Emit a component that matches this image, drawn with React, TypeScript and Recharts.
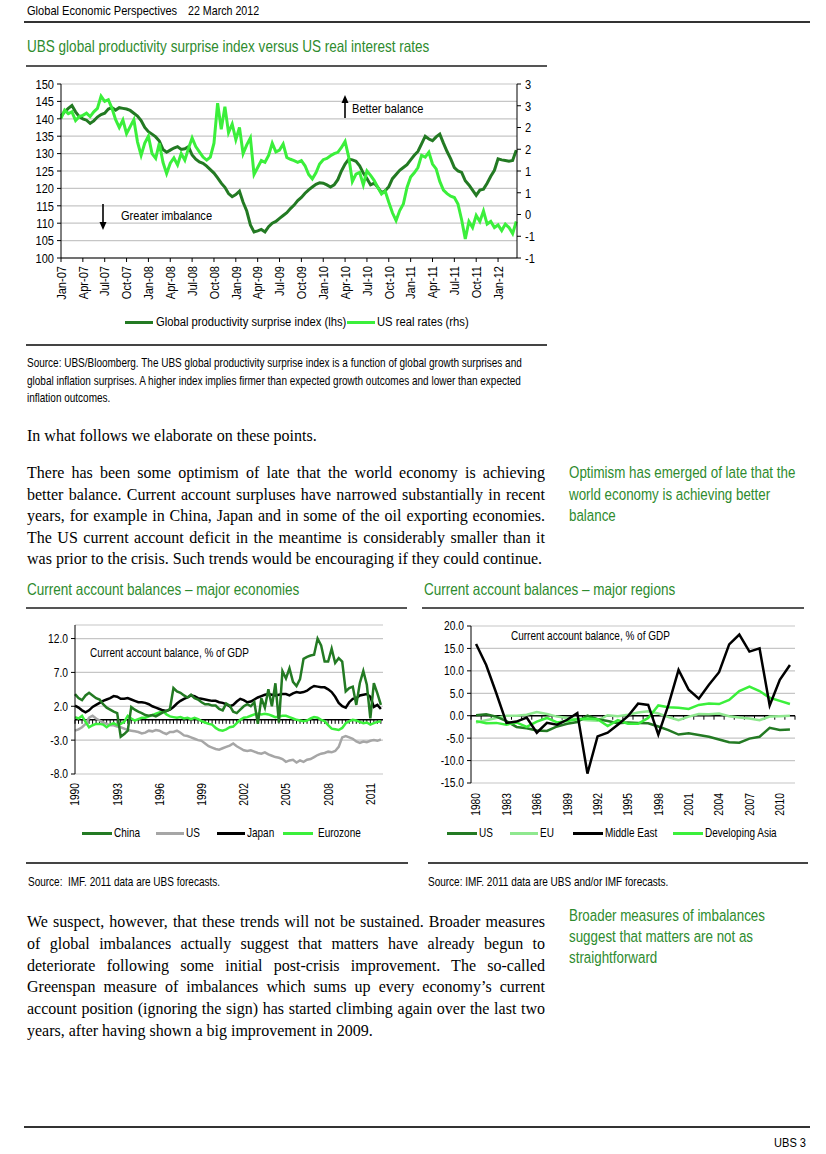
import React from 'react';
import { LineChart, Line, XAxis, YAxis, CartesianGrid, ReferenceLine } from 'recharts';

const SANS = '"Liberation Sans", Arial, sans-serif';
const SERIF = '"Liberation Serif", "Times New Roman", serif';
const K = 0.82; // horizontal squeeze to imitate Arial Narrow
const GREEN_TEXT = '#2e8b2e';
const DARK = '#237a23';
const BRIGHT = '#3bef3b';
const PALE = '#8fe88f';
const GRAY = '#a6a6a6';
const GRID = '#c6c6c6';

// ---------- Chart 1: UBS global productivity surprise index vs US real rates (half-month steps from Jan-07)
const monthTickLabels = ['Jan-07', 'Apr-07', 'Jul-07', 'Oct-07', 'Jan-08', 'Apr-08', 'Jul-08', 'Oct-08', 'Jan-09', 'Apr-09', 'Jul-09', 'Oct-09', 'Jan-10', 'Apr-10', 'Jul-10', 'Oct-10', 'Jan-11', 'Apr-11', 'Jul-11', 'Oct-11', 'Jan-12'];
const productivityIndex = [
  140.8, 142, 143, 143.8, 142, 140.6, 140, 139.6, 138.7, 139.4,
  140.5, 141.2, 141.6, 142.8, 143.2, 142.5, 143.2, 143, 142.8, 142.4,
  141.6, 140.8, 139.5, 137.5, 136.3, 135.6, 134.8, 133.6, 131.2, 130.4,
  131, 131.6, 132, 131.2, 131.4, 132, 129.6, 128.4, 127.6, 127.2,
  126.4, 125.4, 124.4, 123, 121.5, 120.3, 118.5, 117.6, 118.2, 119.2,
  116, 113.5, 109.5, 107.5, 107.8, 108.2, 107.5, 109, 110, 110.5,
  111.4, 112.2, 113, 114.2, 115.2, 116.5, 117.4, 118.6, 119.6, 120.4,
  121.2, 121.6, 121.5, 121, 120.4, 121, 122.5, 125, 127, 128.4,
  128.2, 127.8, 126.5, 124.4, 122.8, 121, 121.5, 120.3, 118.8, 119.3,
  120.5, 122.8, 124, 125.2, 126, 126.8, 128.2, 129.5, 130.6, 132.8,
  135, 134.2, 133.7, 134.8, 135.6, 133, 130.6, 128.5, 126, 125,
  124.6, 122.2, 121, 119.5, 118, 119.5, 119.8, 121.5, 123.5, 125.2,
  128.5, 128.2, 128, 127.8, 128, 131,
];
const usRealRates = [
  2.21, 2.40, 2.32, 2.36, 2.16, 2.25, 2.28, 2.33, 2.25, 2.36,
  2.44, 2.72, 2.60, 2.64, 2.44, 2.18, 2.00, 2.17, 1.86, 2.02,
  2.18, 1.67, 1.36, 1.64, 1.80, 1.40, 1.29, 1.64, 1.20, 0.94,
  1.18, 1.30, 1.14, 1.40, 1.25, 1.52, 1.76, 1.56, 1.44, 1.32,
  1.25, 1.32, 1.64, 2.56, 1.96, 2.48, 1.88, 2.08, 1.72, 2.00,
  1.40, 1.60, 1.76, 0.92, 1.08, 1.24, 1.20, 1.36, 1.64, 1.44,
  1.48, 1.62, 1.31, 1.27, 1.24, 1.20, 1.24, 1.12, 0.92, 0.82,
  0.96, 1.16, 1.26, 1.29, 1.35, 1.40, 1.43, 1.54, 1.68, 1.32,
  0.76, 0.93, 0.97, 0.68, 1.00, 0.90, 0.78, 0.62, 0.47, 0.54,
  0.28, 0.04, -0.14, 0.09, 0.24, 0.62, 0.86, 0.96, 1.08, 1.36,
  1.32, 1.43, 1.16, 1.05, 0.76, 0.56, 0.48, 0.42, 0.39, 0.24,
  -0.12, -0.56, -0.16, -0.30, -0.02, -0.16, 0.08, -0.22, -0.16, -0.30,
  -0.24, -0.37, -0.22, -0.30, -0.44, -0.16,
];
const lhsTicks = [100, 105, 110, 115, 120, 125, 130, 135, 140, 145, 150];
const rhsTicks = [-1, -0.5, 0, 0.5, 1, 1.5, 2, 2.5, 3];
const c1Data = productivityIndex.map((p, i) => ({ m: i * 0.5, p, r: usRealRates[i] }));

// ---------- Chart 2: current account balances - major economies (quarterly 1990Q1-2011Q4)
const chinaCA = [
  3.8, 3.2, 2.9, 3.6, 4.0, 3.6, 3.2, 3.0, 2.3, 1.8, 1.5, 1.2, 1.0, -2.5, -2.1, -1.6,
  1.9, 1.5, 1.2, 1.0, 0.7, 0.6, 0.7, 0.5, 0.8, 1.1, 1.3, 1.6, 4.7, 4.2, 4.0, 3.6,
  3.3, 3.7, 3.2, 3.0, 2.6, 2.3, 2.3, 2.1, 2.1, 1.6, 1.4, 2.4, 2.1, 1.2, 1.0, 1.5,
  2.0, 2.3, 2.0, 2.6, -0.6, 3.2, 1.8, 4.5, 2.0, 5.4, -0.4, 7.2, 6.1, 7.6, 5.6, 5.0,
  6.0, 9.0, 9.3, 9.5, 9.6, 12.0, 11.0, 8.6, 8.6, 10.5, 8.4, 9.1, 8.6, 4.2, 4.7, 4.9,
  2.2, 5.4, 7.2, 5.2, 0.2, 5.4, 3.9, 2.2,
];
const usCA = [
  -1.6, -1.4, -1.1, -0.6, 0.3, 0.6, 0.2, -0.1, -0.4, -0.6, -0.8, -0.8, -1.0, -1.1, -1.3, -1.5,
  -1.6, -1.7, -1.8, -2.0, -1.9, -1.6, -1.7, -1.5, -1.6, -1.9, -2.1, -1.8, -1.8, -1.6, -1.9, -2.3,
  -2.4, -2.6, -2.8, -3.0, -3.1, -3.5, -3.9, -4.1, -4.3, -4.4, -4.2, -4.0, -3.8, -3.5, -3.9, -4.2,
  -4.5, -4.6, -4.5, -4.7, -4.9, -5.0, -4.8, -5.1, -5.3, -5.5, -5.6, -5.8, -6.2, -6.0, -5.9, -6.3,
  -6.0, -6.2, -5.9, -5.8, -5.5, -5.2, -5.0, -4.9, -4.7, -4.8, -4.6, -4.0, -2.6, -2.4, -2.6, -2.8,
  -3.2, -3.4, -3.2, -3.3, -3.1, -3.0, -3.1, -2.9,
];
const japanCA = [
  2.1, 1.8, 1.4, 1.1, 1.4, 1.9, 2.2, 2.5, 2.8, 3.0, 3.2, 3.5, 3.4, 3.1, 3.1, 3.2,
  3.0, 2.8, 2.6, 2.6, 2.5, 2.3, 2.0, 1.8, 1.6, 1.4, 1.3, 1.5, 1.9, 2.4, 2.8, 3.1,
  3.3, 3.6, 3.5, 3.2, 3.1, 3.0, 2.9, 2.8, 2.8, 2.6, 2.5, 2.3, 2.0, 2.2, 2.7, 3.1,
  2.9, 2.6, 2.7, 3.0, 3.3, 3.5, 3.7, 3.8, 3.7, 3.6, 3.7, 3.8, 3.8, 3.6, 3.9, 4.1,
  4.0, 4.1, 4.3, 4.7, 5.0, 4.9, 4.8, 4.8, 4.5, 4.1, 3.4, 2.5, 2.0, 1.8, 2.6, 3.1,
  3.2, 3.6, 3.7, 3.8, 3.4, 1.9, 2.2, 1.6,
];
const eurozoneCA = [
  0.4, 0.2, 0.6, -0.3, -1.1, -0.8, -0.6, -0.6, -0.7, -1.1, -0.7, -0.5, -0.8, -0.6, -0.3, 0.6,
  0.2, -0.1, 0.1, 0.3, 0.3, 0.5, 0.7, 0.9, 1.1, 1.3, 0.8, 0.5, 0.4, 0.3, 0.4, 0.2,
  0.3, 0.1, 0.3, 0.1, -0.2, -0.4, -0.6, -0.7, -1.2, -1.5, -1.6, -1.4, -1.1, -1.0, -0.5, 0.0,
  0.3, 0.4, 0.6, 0.8, 0.9, 0.8, 0.9, 0.8, 0.6, 0.4, 0.5, 0.6, 0.6, 0.4, 0.2, 0.0,
  -0.1, -0.2, -0.1, 0.2, 0.4, 0.3, 0.0, -0.2, -0.8, -1.3, -1.4, -1.5, -1.2, -0.5, -0.2, 0.0,
  -0.1, -0.3, -0.5, -0.4, -0.7, -0.5, -0.3, -0.2,
];
const c2YearTicks = [1990, 1993, 1996, 1999, 2002, 2005, 2008, 2011];
const c2ValueTicks = [-8, -3, 2, 7, 12];
const c2Data = chinaCA.map((v, i) => ({ t: 1990 + i / 4, china: v, us: usCA[i], japan: japanCA[i], euro: eurozoneCA[i] }));

// ---------- Chart 3: current account balances - major regions (annual 1980-2011)
const regionYears = Array.from({ length: 32 }, (_, i) => 1980 + i);
const usRegionCA = [0.1, 0.3, -0.2, -1.2, -2.5, -2.8, -3.3, -3.4, -2.4, -1.8, -1.4, 0.0, -0.8, -1.2, -1.7, -1.5, -1.6, -1.7, -2.4, -3.2, -4.2, -3.9, -4.3, -4.7, -5.3, -5.9, -6.0, -5.1, -4.7, -2.7, -3.2, -3.1];
const euRegionCA = [-1.5, -1.0, -0.5, 0.0, 0.0, 0.2, 0.8, 0.4, -0.2, -0.5, -0.8, -1.0, -1.1, 0.1, -0.1, 0.2, 0.7, 1.0, 0.5, -0.3, -1.0, -0.2, 0.4, 0.3, 0.5, -0.1, -0.4, -0.6, -1.0, -0.2, -0.1, 0.0];
const middleEastCA = [16.0, 11.3, 5.0, -1.6, -1.3, -0.4, -3.8, -1.6, -2.0, -0.9, 0.6, -12.9, -4.6, -3.8, -2.0, -0.1, 2.7, 2.4, -4.2, 2.4, 10.2, 5.8, 3.8, 6.9, 9.7, 15.9, 18.1, 14.3, 15.0, 2.3, 8.0, 11.3];
const devAsiaCA = [-1.2, -1.7, -1.6, -2.0, -1.5, -2.5, -1.3, -0.5, -1.5, -1.2, -0.8, -0.6, -0.8, -2.3, -1.0, -1.8, -1.8, -0.5, 2.3, 1.9, 1.8, 1.5, 2.4, 2.7, 2.6, 3.5, 5.5, 6.5, 5.5, 4.0, 3.3, 2.6];
const c3YearTicks = [1980, 1983, 1986, 1989, 1992, 1995, 1998, 2001, 2004, 2007, 2010];
const c3ValueTicks = [-15, -10, -5, 0, 5, 10, 15, 20];
const c3Data = regionYears.map((y, i) => ({ t: y, us: usRegionCA[i], eu: euRegionCA[i], me: middleEastCA[i], asia: devAsiaCA[i] }));

// ---------- helpers
const RotTick = (props: any) => {
  const { x, y, payload, labels, fs, gap } = props;
  const label = labels ? labels(payload.value) : String(payload.value);
  return (
    <g transform={`translate(${x},${y})`}>
      <text transform={`rotate(-90) scale(${K},1)`} x={-gap / K} y={0} dy="0.35em" textAnchor="end" fontSize={fs} fontFamily={SANS} fill="#000">
        {label}
      </text>
    </g>
  );
};

const NarrowYTick = (props: any) => {
  const { x, y, payload, textAnchor, fs, fmt } = props;
  return (
    <text transform={`translate(${x},${y}) scale(${K},1)`} textAnchor={textAnchor} dy="0.355em" fontSize={fs} fontFamily={SANS} fill="#000">
      {fmt ? fmt(payload.value) : String(payload.value)}
    </text>
  );
};

const zeroAxisShape = (divisions: number) => (p: any) => {
  const { x1, x2, y1 } = p;
  const step = (x2 - x1) / divisions;
  const marks: any[] = [];
  for (let i = 0; i * step <= x2 - x1 + 0.01; i++) {
    const xx = x1 + i * step;
    marks.push(<line key={i} x1={xx} x2={xx} y1={y1} y2={y1 + 4} stroke="#000" strokeWidth={1} />);
  }
  return (
    <g>
      <line x1={x1} x2={x2} y1={y1} y2={y1} stroke="#000" strokeWidth={1.6} />
      {marks}
    </g>
  );
};

const Txt = ({ x, right, y, size, color = '#000', children }: any) => (
  <div
    style={{
      position: 'absolute',
      ...(right !== undefined ? { right: 826 - right } : { left: x }),
      top: y - size * 0.6,
      fontSize: size,
      lineHeight: `${size * 1.2}px`,
      fontFamily: SANS,
      color,
      whiteSpace: 'nowrap',
      transform: `scaleX(${K})`,
      transformOrigin: right !== undefined ? 'right center' : 'left center',
    }}
  >
    {children}
  </div>
);

const HLine = ({ x1, x2, y, w = 1.5, color = '#444' }: any) => (
  <div style={{ position: 'absolute', left: x1, top: y - w / 2, width: x2 - x1, height: w, background: color }} />
);

const JLine = ({ y, children, last }: any) => (
  <div
    style={{
      position: 'absolute',
      left: 27,
      top: y - 10,
      width: 518,
      fontSize: 16,
      lineHeight: '20px',
      fontFamily: SERIF,
      color: '#000',
      whiteSpace: 'nowrap',
      textAlign: last ? 'left' : 'justify',
      textAlignLast: last ? 'left' : 'justify',
    } as any}
  >
    {children}
  </div>
);

const LegendItem = ({ x1, x2, tx, y, color, label, size = 12 }: any) => (
  <>
    <div style={{ position: 'absolute', left: x1, top: y - 1.5, width: x2 - x1, height: 3, background: color }} />
    <Txt x={tx} y={y} size={size}>{label}</Txt>
  </>
);

const rhsFormat = (v: number) => String(Math.sign(v) * Math.round(Math.abs(v)));
const oneDecimal = (v: number) => v.toFixed(1);

export default function App() {
  return (
    <div style={{ position: 'absolute', left: 0, top: 0, width: 826, height: 1154, background: '#fff', overflow: 'hidden' }}>
      {/* Header */}
      <Txt x={27} y={11} size={13.5}>Global Economic Perspectives</Txt>
      <Txt x={188} y={11} size={13}>22 March 2012</Txt>
      <HLine x1={24} x2={810} y={22} w={1.2} color="#333" />
      <Txt x={27} y={47} size={16.5} color={GREEN_TEXT}>UBS global productivity surprise index versus US real interest rates</Txt>
      <HLine x1={26} x2={547} y={66} w={2} color="#555" />

      {/* Chart 1 */}
      <div style={{ position: 'absolute', left: 20, top: 70 }}>
        <LineChart width={530} height={240} data={c1Data} margin={{ top: 14, right: 0, bottom: 0, left: 0 }}>
          <CartesianGrid vertical={false} stroke={GRID} strokeWidth={1.2} yAxisId="left" />
          <XAxis
            dataKey="m"
            type="number"
            domain={[0, 62.6]}
            ticks={monthTickLabels.map((_, i) => i * 3)}
            interval={0}
            height={52}
            tickSize={4}
            tickMargin={0}
            stroke="#000"
            tick={<RotTick fs={13.5} gap={4} labels={(v: number) => monthTickLabels[Math.round(v / 3)]} />}
          />
          <YAxis
            yAxisId="left"
            domain={[100, 150]}
            ticks={lhsTicks}
            interval={0}
            width={41}
            tickSize={4}
            tickMargin={3}
            stroke="#000"
            tick={<NarrowYTick fs={13.5} />}
          />
          <YAxis
            yAxisId="right"
            orientation="right"
            domain={[-1, 3]}
            ticks={rhsTicks}
            interval={0}
            width={33}
            tickSize={4}
            tickMargin={4}
            stroke="#000"
            tick={<NarrowYTick fs={13.5} fmt={rhsFormat} />}
          />
          <Line yAxisId="left" dataKey="p" stroke={DARK} strokeWidth={3} dot={false} isAnimationActive={false} />
          <Line yAxisId="right" dataKey="r" stroke={BRIGHT} strokeWidth={3} dot={false} isAnimationActive={false} />
        </LineChart>
      </div>
      {/* annotations chart 1 */}
      <svg style={{ position: 'absolute', left: 0, top: 0 }} width={826} height={340}>
        <line x1={345} x2={345} y1={118} y2={101} stroke="#000" strokeWidth={1.6} />
        <polygon points="345,95 341.5,103 348.5,103" fill="#000" />
        <line x1={103} x2={103} y1={204} y2={224} stroke="#000" strokeWidth={1.6} />
        <polygon points="103,230 99.5,222 106.5,222" fill="#000" />
      </svg>
      <Txt x={352} y={109} size={13.5}>Better balance</Txt>
      <Txt x={121} y={216} size={13.5}>Greater imbalance</Txt>
      <LegendItem x1={125} x2={153} tx={156} y={322} color={DARK} label="Global productivity surprise index (lhs)" size={13.7} />
      <LegendItem x1={347} x2={375} tx={377} y={322} color={BRIGHT} label="US real rates (rhs)" size={13.7} />
      <HLine x1={26} x2={547} y={345} w={1.5} color="#444" />
      <Txt x={27} y={363} size={12.2}>Source: UBS/Bloomberg. The UBS global productivity surprise index is a function of global growth surprises and</Txt>
      <Txt x={27} y={381} size={12.2}>global inflation surprises. A higher index implies firmer than expected growth outcomes and lower than expected</Txt>
      <Txt x={27} y={398} size={12.2}>inflation outcomes.</Txt>

      {/* Body text 1 */}
      <JLine y={436} last>In what follows we elaborate on these points.</JLine>
      <JLine y={473}>There has been some optimism of late that the world economy is achieving</JLine>
      <JLine y={494.6}>better balance. Current account surpluses have narrowed substantially in recent</JLine>
      <JLine y={516.2}>years, for example in China, Japan and in some of the oil exporting economies.</JLine>
      <JLine y={537.8}>The US current account deficit in the meantime is considerably smaller than it</JLine>
      <JLine y={559.4} last>was prior to the crisis. Such trends would be encouraging if they could continue.</JLine>
      <Txt x={569} y={473} size={16.3} color={GREEN_TEXT}>Optimism has emerged of late that the</Txt>
      <Txt x={569} y={494.6} size={16.3} color={GREEN_TEXT}>world economy is achieving better</Txt>
      <Txt x={569} y={516.2} size={16.3} color={GREEN_TEXT}>balance</Txt>

      {/* Chart titles */}
      <Txt x={27} y={590} size={16.5} color={GREEN_TEXT}>Current account balances – major economies</Txt>
      <Txt x={424} y={590} size={16.5} color={GREEN_TEXT}>Current account balances – major regions</Txt>
      <HLine x1={26} x2={407} y={608} w={2} color="#555" />
      <HLine x1={422} x2={804} y={608} w={2} color="#555" />

      {/* Chart 2 */}
      <div style={{ position: 'absolute', left: 20, top: 618 }}>
        <LineChart width={380} height={200} data={c2Data} margin={{ top: 7, right: 17, bottom: 0, left: 0 }}>
          <CartesianGrid vertical={false} stroke={GRID} strokeWidth={1.2} />
          <XAxis
            dataKey="t"
            type="number"
            domain={[1990, 2011.9]}
            ticks={c2YearTicks}
            interval={0}
            height={44}
            axisLine={false}
            tickLine={false}
            tickSize={0}
            tickMargin={0}
            tick={<RotTick fs={12.5} gap={9} />}
          />
          <YAxis
            domain={[-8, 14]}
            ticks={c2ValueTicks}
            interval={0}
            width={55}
            tickSize={4}
            tickMargin={3}
            stroke="#000"
            tick={<NarrowYTick fs={12.5} fmt={oneDecimal} />}
          />
          <ReferenceLine y={0} shape={zeroAxisShape(87.6)} />
          <Line dataKey="us" stroke={GRAY} strokeWidth={2.5} dot={false} isAnimationActive={false} />
          <Line dataKey="euro" stroke={BRIGHT} strokeWidth={2.5} dot={false} isAnimationActive={false} />
          <Line dataKey="japan" stroke="#000" strokeWidth={2.5} dot={false} isAnimationActive={false} />
          <Line dataKey="china" stroke={DARK} strokeWidth={2.5} dot={false} isAnimationActive={false} />
        </LineChart>
      </div>
      <Txt x={90} y={653} size={12.2}>Current account balance, % of GDP</Txt>
      <LegendItem x1={82} x2={112} tx={114} y={833} color={DARK} label="China" size={12.2} />
      <LegendItem x1={156} x2={184} tx={186} y={833} color={GRAY} label="US" size={12.2} />
      <LegendItem x1={217} x2={245} tx={247} y={833} color="#000" label="Japan" size={12.2} />
      <LegendItem x1={283} x2={313} tx={318} y={833} color={BRIGHT} label="Eurozone" size={12.2} />

      {/* Chart 3 */}
      <div style={{ position: 'absolute', left: 420, top: 618 }}>
        <LineChart width={385} height={210} data={c3Data} margin={{ top: 8, right: 10, bottom: 0, left: 0 }}>
          <CartesianGrid vertical={false} stroke={GRID} strokeWidth={1.2} />
          <XAxis
            dataKey="t"
            type="number"
            domain={[1979.5, 2011.5]}
            ticks={c3YearTicks}
            interval={0}
            height={45}
            axisLine={false}
            tickLine={false}
            tickSize={0}
            tickMargin={0}
            tick={<RotTick fs={12.5} gap={10} />}
          />
          <YAxis
            domain={[-15, 20]}
            ticks={c3ValueTicks}
            interval={0}
            width={51}
            tickSize={4}
            tickMargin={3}
            stroke="#000"
            tick={<NarrowYTick fs={12.5} fmt={oneDecimal} />}
          />
          <ReferenceLine y={0} shape={zeroAxisShape(32)} />
          <Line dataKey="eu" stroke={PALE} strokeWidth={2.5} dot={false} isAnimationActive={false} />
          <Line dataKey="us" stroke={DARK} strokeWidth={2.5} dot={false} isAnimationActive={false} />
          <Line dataKey="asia" stroke={BRIGHT} strokeWidth={2.5} dot={false} isAnimationActive={false} />
          <Line dataKey="me" stroke="#000" strokeWidth={2.5} dot={false} isAnimationActive={false} />
        </LineChart>
      </div>
      <Txt x={511} y={636} size={12.2}>Current account balance, % of GDP</Txt>
      <LegendItem x1={447} x2={477} tx={479} y={833} color={DARK} label="US" size={12.2} />
      <LegendItem x1={510} x2={538} tx={540} y={833} color={PALE} label="EU" size={12.2} />
      <LegendItem x1={573} x2={603} tx={605} y={833} color="#000" label="Middle East" size={12.2} />
      <LegendItem x1={673} x2={703} tx={705} y={833} color={BRIGHT} label="Developing Asia" size={12.2} />

      <HLine x1={26} x2={408} y={863} w={1.5} color="#444" />
      <HLine x1={428} x2={808} y={863} w={1.5} color="#444" />
      <Txt x={28} y={882} size={12.2}>Source:&nbsp; IMF. 2011 data are UBS forecasts.</Txt>
      <Txt x={428} y={882} size={12.2}>Source: IMF. 2011 data are UBS and/or IMF forecasts.</Txt>

      {/* Body text 2 */}
      <JLine y={922}>We suspect, however, that these trends will not be sustained. Broader measures</JLine>
      <JLine y={943.8}>of global imbalances actually suggest that matters have already begun to</JLine>
      <JLine y={965.6}>deteriorate following some initial post-crisis improvement. The so-called</JLine>
      <JLine y={987.4}>Greenspan measure of imbalances which sums up every economy’s current</JLine>
      <JLine y={1009.2}>account position (ignoring the sign) has started climbing again over the last two</JLine>
      <JLine y={1031} last>years, after having shown a big improvement in 2009.</JLine>
      <Txt x={569} y={916} size={16.3} color={GREEN_TEXT}>Broader measures of imbalances</Txt>
      <Txt x={569} y={937} size={16.3} color={GREEN_TEXT}>suggest that matters are not as</Txt>
      <Txt x={569} y={958} size={16.3} color={GREEN_TEXT}>straightforward</Txt>

      <HLine x1={24} x2={810} y={1127} w={1.2} color="#333" />
      <Txt right={806} y={1143} size={13.5}>UBS 3</Txt>
    </div>
  );
}
